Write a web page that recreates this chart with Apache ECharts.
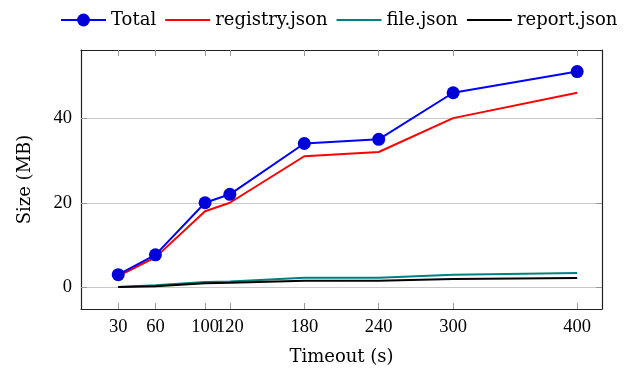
<!DOCTYPE html>
<html>
<head>
<meta charset="utf-8">
<script src="https://cdn.jsdelivr.net/npm/echarts@6/dist/echarts.min.js"></script>
<style>
  html, body { margin: 0; padding: 0; background: #fff; }
  #chart { width: 631px; height: 368px; }
</style>
</head>
<body>
<div id="chart"></div>
<script>
// timeouts (s)
var timeouts = [30, 60, 100, 120, 180, 240, 300, 400];
// sizes (MB)
var total    = [3, 7.7, 20, 22, 34, 35, 46, 51];
var registry = [2.7, 7.1, 18, 20, 31, 32, 40, 46];
var fileJson = [0.1, 0.5, 1.3, 1.4, 2.3, 2.3, 3.0, 3.4];
var report   = [0.1, 0.3, 1.0, 1.1, 1.6, 1.6, 2.0, 2.2];
var yTicks = [0, 20, 40];

var textFont = 'DejaVu Serif';
var numFont = 'Liberation Serif';

function pairs(ys) {
  return timeouts.map(function (t, i) { return [t, ys[i]]; });
}

var chart = echarts.init(document.getElementById('chart'));

var tickStyle = { color: '#999', width: 1 };
var frame = { color: '#222', width: 1.2 };
var hideSymbol = { opacity: 0 };

chart.setOption({
  animation: false,
  textStyle: { fontFamily: textFont },
  legend: {
    top: 11,
    left: 60,
    width: 600,
    padding: 0,
    itemWidth: 45,
    itemHeight: 16,
    itemGap: 8,
    textStyle: { fontFamily: textFont, fontSize: 18, color: '#000' },
    data: [
      { name: 'Total' },
      { name: 'registry.json', itemStyle: hideSymbol },
      { name: 'file.json', itemStyle: hideSymbol },
      { name: 'report.json', itemStyle: hideSymbol }
    ]
  },
  grid: { left: 81, right: 29, top: 50, bottom: 59, outerBoundsMode: 'none' },
  xAxis: [
    {
      type: 'value',
      min: 0,
      max: 420,
      position: 'bottom',
      name: 'Timeout (s)',
      nameLocation: 'middle',
      nameGap: 39,
      nameTextStyle: { fontFamily: textFont, fontSize: 18, color: '#000' },
      axisLine: { onZero: false, lineStyle: frame },
      axisTick: { inside: true, length: 6, customValues: timeouts, lineStyle: tickStyle },
      axisLabel: { customValues: timeouts, margin: 9, fontFamily: numFont, fontSize: 18.5, color: '#000' },
      splitLine: { show: false }
    },
    {
      type: 'value',
      min: 0,
      max: 420,
      position: 'top',
      axisLine: { onZero: false, lineStyle: frame },
      axisTick: { inside: true, length: 6, customValues: timeouts, lineStyle: tickStyle },
      axisLabel: { show: false },
      splitLine: { show: false }
    }
  ],
  yAxis: [
    {
      type: 'value',
      min: -5.1,
      max: 56.1,
      position: 'left',
      name: 'Size (MB)',
      nameLocation: 'middle',
      nameGap: 47,
      nameTextStyle: { fontFamily: textFont, fontSize: 18, color: '#000' },
      axisLine: { show: true, onZero: false, lineStyle: frame },
      axisTick: { show: true, inside: true, length: 6, customValues: yTicks, lineStyle: tickStyle },
      axisLabel: { customValues: yTicks, margin: 9, fontFamily: numFont, fontSize: 18.5, color: '#000' },
      splitLine: { show: true, lineStyle: { color: '#c8c8c8', width: 1 } }
    },
    {
      type: 'value',
      min: -5.1,
      max: 56.1,
      position: 'right',
      axisLine: { show: true, onZero: false, lineStyle: frame },
      axisTick: { show: true, inside: true, length: 6, customValues: yTicks, lineStyle: tickStyle },
      axisLabel: { show: false },
      splitLine: { show: false }
    }
  ],
  series: [
    {
      name: 'Total',
      type: 'line',
      data: pairs(total),
      symbol: 'circle',
      symbolSize: 13,
      z: 5,
      lineStyle: { color: '#0000ff', width: 2 },
      itemStyle: { color: '#0000d8' }
    },
    {
      name: 'registry.json',
      type: 'line',
      data: pairs(registry),
      symbol: 'none',
      z: 4,
      lineStyle: { color: '#ff0000', width: 2 },
      itemStyle: { color: '#ff0000' }
    },
    {
      name: 'file.json',
      type: 'line',
      data: pairs(fileJson),
      symbol: 'none',
      z: 3,
      lineStyle: { color: '#008080', width: 2 },
      itemStyle: { color: '#008080' }
    },
    {
      name: 'report.json',
      type: 'line',
      data: pairs(report),
      symbol: 'none',
      z: 4,
      lineStyle: { color: '#000000', width: 2 },
      itemStyle: { color: '#000000' }
    }
  ]
});
</script>
</body>
</html>
